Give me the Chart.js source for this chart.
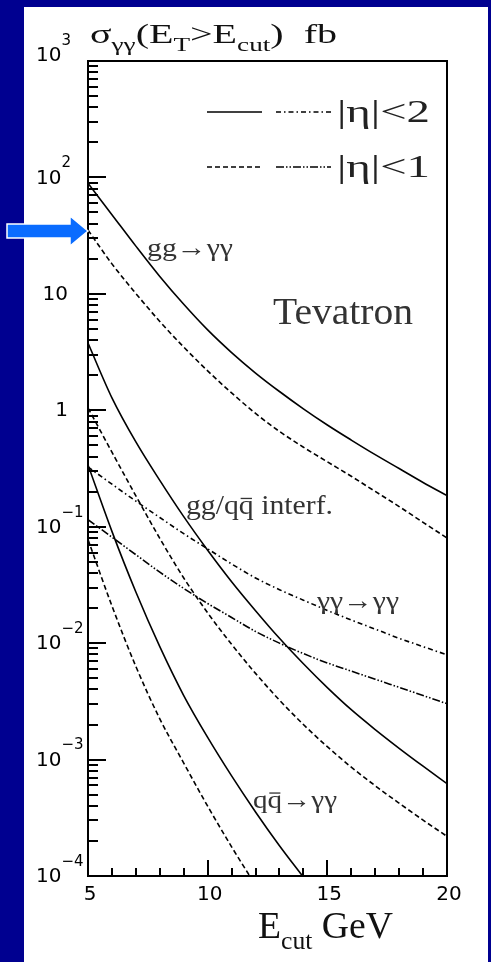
<!DOCTYPE html>
<html>
<head>
<meta charset="utf-8">
<script src="https://cdn.jsdelivr.net/npm/chart.js@4.4.0/dist/chart.umd.min.js"></script>
<style>
  html, body { margin: 0; padding: 0; background: #000090; }
  #wrap { position: relative; width: 491px; height: 962px; }
</style>
</head>
<body>
<div id="wrap"><canvas id="sigma"></canvas></div>
<script>
// E_cut in GeV
const ecut = [5, 6, 7, 8, 9, 10, 11, 12, 13, 14, 15, 16, 17, 18, 19, 20];

// cross sections in fb, |eta|<2 and |eta|<1
const ggEta2 = [89.1, 47.9, 25.7, 14.1, 8.13, 4.90, 3.13, 2.09, 1.45, 1.03, 0.748, 0.555, 0.416, 0.316, 0.240, 0.185];
const ggEta1 = [35.3, 18.1, 10.07, 5.79, 3.49, 2.18, 1.41, 0.940, 0.658, 0.482, 0.361, 0.271, 0.201, 0.149, 0.109, 0.080];
const interfEta2 = [3.78, 1.28, 0.535, 0.250, 0.122, 0.0628, 0.0337, 0.0190, 0.0110, 0.00665, 0.00415, 0.00268, 0.00181, 0.00125, 0.000877, 0.000621];
const interfEta1 = [1.047, 0.437, 0.184, 0.0794, 0.0363, 0.0182, 0.00977, 0.0055, 0.00324, 0.0020, 0.00129, 0.000861, 0.000596, 0.000422, 0.000302, 0.000219];
const qqEta2 = [0.339, 0.0912, 0.0275, 0.00933, 0.00355, 0.00155, 0.000724, 0.000355, 0.000182, 0.0000977];
const qqEta1 = [0.0776, 0.0209, 0.00631, 0.00224, 0.000933, 0.000398, 0.000178, 0.0000832];
const aaEta2 = [0.326, 0.232, 0.166, 0.120, 0.0871, 0.0646, 0.0479, 0.0363, 0.0288, 0.0234, 0.0191, 0.0158, 0.0132, 0.0110, 0.00933, 0.00794];
const aaEta1 = [0.115, 0.0813, 0.0575, 0.0407, 0.0295, 0.0219, 0.0166, 0.0126, 0.0100, 0.00813, 0.00676, 0.00575, 0.0049, 0.00417, 0.00355, 0.00302];

// axis labels
const xTickValues = [5, 10, 15, 20];
const yTickValues = [1e-4, 1e-3, 1e-2, 1e-1, 1, 10, 1e2, 1e3];
const yTickBase = ['10', '10', '10', '10', '1', '10', '10', '10'];
const yTickExp = ['\u22124', '\u22123', '\u22122', '\u22121', '', '', '2', '3'];

const SOLID = [];
const DASH = [5, 3];
const DASHDOT = [5, 3, 1.5, 3];
const DASHDOTS = [8, 2, 1.5, 2, 1.5, 2];

function pts(vals) {
  return vals.map((v, i) => ({ x: ecut[i], y: v }));
}

function curve(label, vals, dash) {
  return {
    label: label,
    data: pts(vals),
    borderColor: '#000',
    borderWidth: 1.6,
    borderDash: dash,
    pointRadius: 0,
    fill: false,
    cubicInterpolationMode: 'monotone'
  };
}

const SERIF = '"Liberation Serif", "Times New Roman", serif';
const SANS = '"DejaVu Sans", sans-serif';

// parts: [text, kind] kind 0 normal, 1 subscript, 2 superscript, 3 with bar on top
// the run is stretched sideways to the given width
function rich(ctx, parts, x, y, size, width) {
  const fontOf = k => ((k === 1 || k === 2) ? size * 0.68 : size) + 'px ' + SERIF;
  const ws = parts.map(([t, k]) => { ctx.font = fontOf(k); return ctx.measureText(t).width; });
  const total = ws.reduce((a, b) => a + b, 0);
  const sx = width ? width / total : 1;
  ctx.save();
  ctx.translate(x, y);
  ctx.scale(sx, 1);
  ctx.textBaseline = 'alphabetic';
  ctx.textAlign = 'left';
  let cx = 0;
  parts.forEach(([t, k], i) => {
    ctx.font = fontOf(k);
    const dy = k === 1 ? size * 0.3 : (k === 2 ? -size * 0.42 : 0);
    ctx.fillText(t, cx, dy);
    if (k === 3) ctx.fillRect(cx + ws[i] * 0.12, -size * 0.6, ws[i] * 0.76, 1.3);
    cx += ws[i];
  });
  ctx.restore();
}

const backdrop = {
  id: 'backdrop',
  beforeDraw(chart) {
    const ctx = chart.ctx;
    ctx.save();
    ctx.fillStyle = '#000090';
    ctx.fillRect(0, 0, chart.width, chart.height);
    ctx.fillStyle = '#fff';
    ctx.fillRect(24, 7, 464, chart.height - 7);
    ctx.restore();
  }
};

const frame = {
  id: 'frame',
  afterDraw(chart) {
    const ctx = chart.ctx;
    const a = chart.chartArea;
    const xs = chart.scales.x, ys = chart.scales.y;
    ctx.save();
    ctx.strokeStyle = '#000';
    ctx.fillStyle = '#000';
    ctx.lineWidth = 2;
    ctx.setLineDash([]);
    ctx.strokeRect(a.left, a.top, a.right - a.left, a.bottom - a.top);

    // inward ticks on the left axis
    ctx.beginPath();
    for (let d = -4; d <= 2; d++) {
      for (let m = 1; m <= 9; m++) {
        const py = Math.round(ys.getPixelForValue(m * Math.pow(10, d)));
        ctx.moveTo(a.left, py);
        ctx.lineTo(a.left + (m === 1 ? 18 : 10), py);
      }
    }
    // inward ticks on the bottom axis
    for (let e = 5; e <= 20; e++) {
      const px = Math.round(xs.getPixelForValue(e));
      ctx.moveTo(px, a.bottom);
      ctx.lineTo(px, a.bottom - (e % 5 === 0 ? 16 : 8));
    }
    ctx.stroke();

    // tick labels, the top one sits a little higher
    ctx.textBaseline = 'middle';
    yTickValues.forEach((v, i) => {
      let py = ys.getPixelForValue(v) + 1;
      if (i === yTickValues.length - 1) py -= 6;
      ctx.font = '20px ' + SANS;
      if (yTickExp[i]) {
        ctx.textAlign = 'left';
        ctx.fillText(yTickBase[i], 36, py);
        const w = ctx.measureText(yTickBase[i]).width;
        ctx.font = '15px ' + SANS;
        ctx.fillText(yTickExp[i], 36 + w, py - 15);
      } else {
        ctx.textAlign = 'right';
        ctx.fillText(yTickBase[i], 68, py);
      }
    });
    ctx.textAlign = 'center';
    ctx.font = '20px ' + SANS;
    xTickValues.forEach(v => {
      ctx.fillText(String(v), xs.getPixelForValue(v) + 2, 895);
    });

    // axis titles
    ctx.fillStyle = '#111';
    rich(ctx, [['\u03c3', 0], ['\u03b3\u03b3', 1], ['(E', 0], ['T', 1], ['>E', 0], ['cut', 1], [')  fb', 0]], 90, 43, 28, 247);
    rich(ctx, [['E', 0], ['cut', 1], [' GeV', 0]], 258, 938, 38, 135);

    // process labels
    ctx.fillStyle = '#333';
    rich(ctx, [['gg\u2192\u03b3\u03b3', 0]], 147, 256, 26, 86);
    rich(ctx, [['Tevatron', 0]], 273, 324, 38, 140);
    rich(ctx, [['gg/q', 0], ['q', 3], [' interf.', 0]], 186, 514, 27, 147);
    rich(ctx, [['\u03b3\u03b3\u2192\u03b3\u03b3', 0]], 317, 609, 26, 82);
    rich(ctx, [['q', 0], ['q', 3], ['\u2192\u03b3\u03b3', 0]], 253, 808, 26, 84);

    // legend
    const rows = [
      { y: 112, styles: [SOLID, DASHDOT], text: '|\u03b7|<2', base: 122 },
      { y: 167, styles: [DASH, DASHDOTS], text: '|\u03b7|<1', base: 177 }
    ];
    ctx.lineWidth = 1.6;
    ctx.strokeStyle = '#000';
    ctx.fillStyle = '#222';
    rows.forEach(r => {
      ctx.setLineDash(r.styles[0]);
      ctx.beginPath(); ctx.moveTo(207, r.y); ctx.lineTo(262, r.y); ctx.stroke();
      ctx.setLineDash(r.styles[1]);
      ctx.beginPath(); ctx.moveTo(276, r.y); ctx.lineTo(331, r.y); ctx.stroke();
      ctx.setLineDash([]);
      rich(ctx, [[r.text, 0]], 337, r.base, 32, 93);
    });

    // pointer arrow on the left edge
    ctx.beginPath();
    ctx.moveTo(7, 224);
    ctx.lineTo(70, 224);
    ctx.lineTo(70, 216);
    ctx.lineTo(88, 231);
    ctx.lineTo(70, 246);
    ctx.lineTo(70, 238);
    ctx.lineTo(7, 238);
    ctx.closePath();
    ctx.fillStyle = '#0a6cff';
    ctx.fill();
    ctx.strokeStyle = '#fff';
    ctx.lineWidth = 1.5;
    ctx.stroke();
    ctx.restore();
  }
};

new Chart(document.getElementById('sigma'), {
  type: 'line',
  data: {
    datasets: [
      curve('gg -> yy |eta|<2', ggEta2, SOLID),
      curve('gg -> yy |eta|<1', ggEta1, DASH),
      curve('gg/qq interf. |eta|<2', interfEta2, SOLID),
      curve('gg/qq interf. |eta|<1', interfEta1, DASH),
      curve('qq -> yy |eta|<2', qqEta2, SOLID),
      curve('qq -> yy |eta|<1', qqEta1, DASH),
      curve('yy -> yy |eta|<2', aaEta2, DASHDOT),
      curve('yy -> yy |eta|<1', aaEta1, DASHDOTS)
    ]
  },
  options: {
    responsive: true,
    maintainAspectRatio: false,
    animation: false,
    events: [],
    layout: { padding: { left: 88, top: 61, right: 44, bottom: 86 } },
    plugins: { legend: { display: false }, tooltip: { enabled: false } },
    scales: {
      x: { type: 'linear', min: 5, max: 20, display: false },
      y: { type: 'logarithmic', min: 1e-4, max: 1e3, display: false }
    }
  },
  plugins: [backdrop, frame]
});
</script>
</body>
</html>
